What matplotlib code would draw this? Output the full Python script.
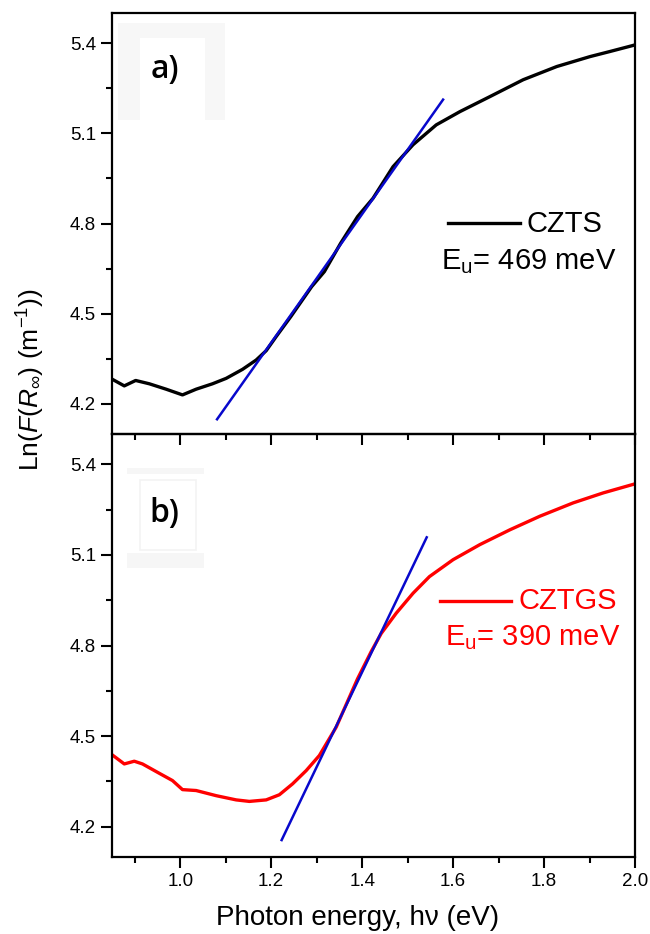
import matplotlib
matplotlib.use('Agg')
import matplotlib.pyplot as plt
from matplotlib.patches import Rectangle
from matplotlib.lines import Line2D
from matplotlib.ticker import MultipleLocator, FormatStrFormatter

plt.rcParams['font.family'] = ['Liberation Sans', 'DejaVu Sans']
plt.rcParams['mathtext.fontset'] = 'custom'
plt.rcParams['mathtext.rm'] = 'Liberation Sans'
plt.rcParams['mathtext.it'] = 'Liberation Sans:italic'
plt.rcParams['mathtext.sf'] = 'Liberation Sans'

# panel a) CZTS
czts_x = [0.847, 0.877, 0.902, 0.932, 0.969, 1.005, 1.035, 1.071, 1.101, 1.137,
          1.167, 1.189, 1.211, 1.243, 1.289, 1.317, 1.353, 1.390, 1.424, 1.468,
          1.512, 1.563, 1.615, 1.681, 1.754, 1.828, 1.901, 1.945, 1.993, 2.000]
czts_y = [4.285, 4.260, 4.278, 4.267, 4.249, 4.230, 4.249, 4.267, 4.285, 4.315,
          4.346, 4.377, 4.424, 4.490, 4.590, 4.640, 4.735, 4.823, 4.884, 4.989,
          5.062, 5.128, 5.172, 5.222, 5.278, 5.322, 5.355, 5.372, 5.391, 5.394]
czts_fit_x = [1.081, 1.578]
czts_fit_y = [4.149, 5.212]

# panel b) CZTGS
cztgs_x = [0.847, 0.877, 0.899, 0.917, 0.954, 0.983, 1.005, 1.035, 1.079, 1.123,
           1.152, 1.189, 1.218, 1.247, 1.277, 1.306, 1.343, 1.390, 1.420, 1.442,
           1.475, 1.512, 1.548, 1.600, 1.659, 1.725, 1.791, 1.864, 1.930, 2.000]
cztgs_y = [4.442, 4.408, 4.417, 4.408, 4.377, 4.353, 4.323, 4.320, 4.303, 4.289,
           4.284, 4.289, 4.306, 4.342, 4.386, 4.436, 4.530, 4.690, 4.780, 4.840,
           4.907, 4.973, 5.028, 5.084, 5.134, 5.183, 5.228, 5.272, 5.305, 5.335]
cztgs_fit_x = [1.223, 1.542]
cztgs_fit_y = [4.156, 5.158]

yticks = [4.2, 4.5, 4.8, 5.1, 5.4]
xticks = [1.0, 1.2, 1.4, 1.6, 1.8, 2.0]

W, H = 650, 934


def fx(px):
    return px / W


def fy(py):
    return 1 - py / H


fig = plt.figure(figsize=(6.5, 9.34), dpi=100)
ax_a = fig.add_axes([fx(112), fy(434), (635 - 112) / W, (434 - 13) / H])
ax_b = fig.add_axes([fx(112), fy(857), (635 - 112) / W, (857 - 434) / H])
ax_b.patch.set_alpha(0)

ax_a.plot(czts_x, czts_y, color='black', lw=2.4)
ax_a.plot(czts_fit_x, czts_fit_y, color='#0808cc', lw=1.8)
ax_b.plot(cztgs_x, cztgs_y, color='#ff0000', lw=2.4)
ax_b.plot(cztgs_fit_x, cztgs_fit_y, color='#0808cc', lw=1.8)

for ax in (ax_a, ax_b):
    ax.set_xlim(0.85, 2.0)
    ax.set_ylim(4.1, 5.5)
    ax.set_yticks(yticks)
    ax.set_xticks(xticks)
    ax.xaxis.set_minor_locator(MultipleLocator(0.1))
    ax.yaxis.set_minor_locator(MultipleLocator(0.15))
    ax.tick_params(which='major', direction='out', length=8, width=1.5, labelsize=13.5, pad=3.5)
    ax.tick_params(which='minor', direction='out', length=4, width=1.5)
    for s in ax.spines.values():
        s.set_linewidth(1.6)
ax_a.tick_params(axis='x', which='both', labelbottom=False)
ax_b.xaxis.set_major_formatter(FormatStrFormatter('%.1f'))

# faint boxes behind the panel letters
fig.patches.append(Rectangle((fx(118), fy(120)), 107 / W, 97 / H, transform=fig.transFigure,
                             facecolor='#f7f7f7', edgecolor='none', zorder=0.5))
fig.patches.append(Rectangle((fx(140), fy(120)), 65 / W, 82 / H, transform=fig.transFigure,
                             facecolor='white', edgecolor='none', zorder=0.6))
fig.patches.append(Rectangle((fx(127), fy(474)), 77 / W, 6 / H, transform=fig.transFigure,
                             facecolor='#f6f6f6', edgecolor='none', zorder=0.5))
fig.patches.append(Rectangle((fx(127), fy(568)), 77 / W, 15 / H, transform=fig.transFigure,
                             facecolor='#f6f6f6', edgecolor='none', zorder=0.5))
fig.patches.append(Rectangle((fx(140), fy(550)), 56 / W, 70 / H, transform=fig.transFigure,
                             facecolor='none', edgecolor='#f3f3f3', lw=1.2, zorder=0.5))

fig.text(fx(165), fy(70), 'a)', fontsize=23, family=['Open Sans', 'DejaVu Sans'],
         weight='semibold', ha='center', va='center')
fig.text(fx(164), fy(513), 'b)', fontsize=23, family=['Open Sans', 'DejaVu Sans'],
         weight='semibold', ha='center', va='center')

# legends
fig.lines.append(Line2D([fx(448), fx(520)], [fy(223), fy(223)], color='black', lw=2.4,
                        transform=fig.transFigure))
fig.text(fx(527), fy(224), 'CZTS', fontsize=21, ha='left', va='center')
fig.text(fx(616), fy(262), r'E$_\mathregular{u}$= 469 meV', fontsize=21, ha='right', va='center')

fig.lines.append(Line2D([fx(440), fx(511)], [fy(601), fy(601)], color='#ff0000', lw=2.4,
                        transform=fig.transFigure))
fig.text(fx(518), fy(601), 'CZTGS', fontsize=21, ha='left', va='center', color='#ff0000')
fig.text(fx(620), fy(638), r'E$_\mathregular{u}$= 390 meV', fontsize=21, ha='right',
         va='center', color='#ff0000')

fig.text(fx(31), fy(380), r'Ln($\mathit{F}$($\mathit{R}_{\infty}$) (m$^{-1}$))', fontsize=19,
         rotation=90, ha='center', va='center')
fig.text(fx(358), fy(918), 'Photon energy, hν (eV)', fontsize=20, ha='center', va='center')

fig.savefig('out.png', dpi=100)
